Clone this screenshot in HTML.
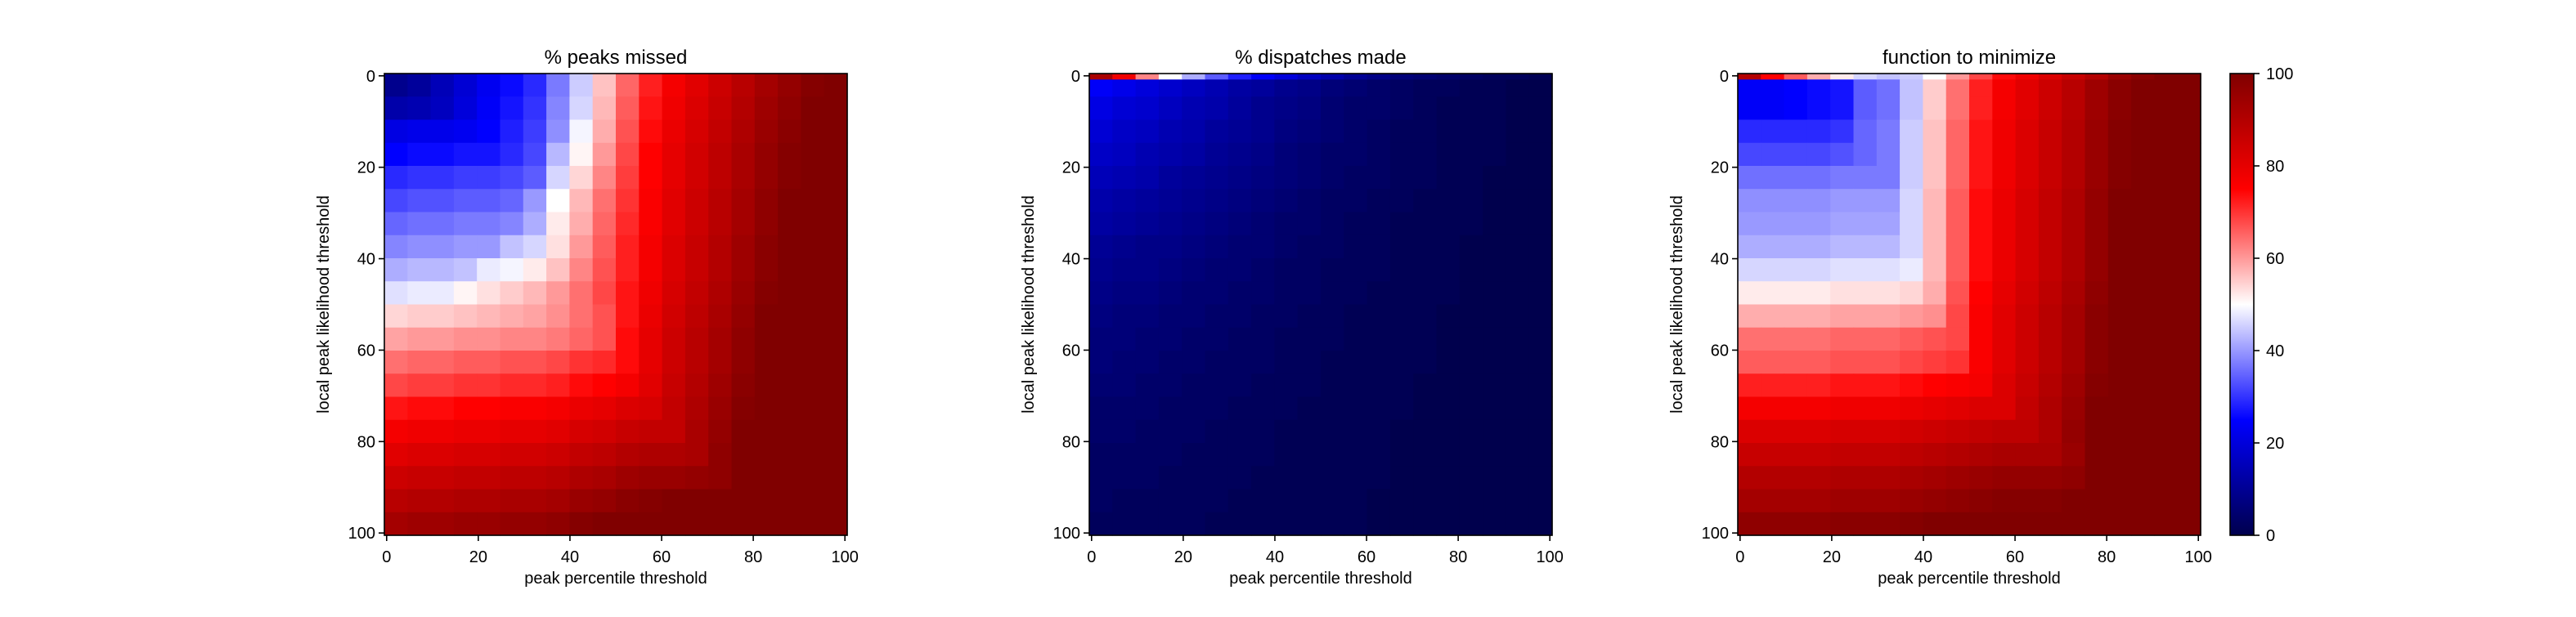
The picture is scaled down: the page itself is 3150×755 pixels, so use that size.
<!DOCTYPE html>
<html><head><meta charset="utf-8"><style>
html,body{margin:0;padding:0;background:#fff;}
svg text{font-family:"Liberation Sans","DejaVu Sans",sans-serif;fill:#000;}
</style></head><body>
<svg id="fig" width="3150" height="750" viewBox="0 0 3150 750" xmlns="http://www.w3.org/2000/svg">
<defs>
<linearGradient id="seis" x1="0" y1="1" x2="0" y2="0">
<stop offset="0" stop-color="rgb(0,0,77)"/>
<stop offset="0.25" stop-color="rgb(0,0,255)"/>
<stop offset="0.5" stop-color="rgb(255,255,255)"/>
<stop offset="0.75" stop-color="rgb(255,0,0)"/>
<stop offset="1" stop-color="rgb(128,0,0)"/>
</linearGradient>
</defs>
</svg>
<script>
const ticks=[0,20,40,60,80,100];
const missed=[
[9,11,15,19,23,26,29,37,45,56,65,72,77,81,85,89,93,96,99,100],
[13,14,16,20,24,27,30,38,46,57,66,73,78,82,86,90,94,97,100,100],
[21,22,22,23,25,28,31,39,49,58,67,74,79,83,87,91,95,98,100,100],
[25,26,26,27,27,29,32,43,51,60,68,75,80,84,88,92,96,99,100,100],
[29,30,30,31,31,32,34,46,54,62,69,75,80,84,88,92,96,99,100,100],
[32,33,33,34,34,35,40,50,57,64,70,76,81,85,89,93,97,100,100,100],
[35,36,36,37,37,38,42,52,58,65,71,76,81,85,89,93,97,100,100,100],
[38,39,39,40,40,44,46,53,60,66,72,77,82,86,90,94,98,100,100,100],
[42,43,43,44,48,49,52,56,62,67,72,77,82,86,90,94,98,100,100,100],
[47,48,48,51,53,55,57,60,64,68,73,78,83,87,91,95,99,100,100,100],
[54,55,55,56,57,58,59,61,64,67,73,79,84,88,92,96,100,100,100,100],
[59,60,60,61,61,62,62,63,65,67,74,80,85,89,93,97,100,100,100,100],
[64,65,65,66,66,67,67,68,70,71,74,80,85,89,93,97,100,100,100,100],
[68,69,69,70,70,71,71,72,74,75,77,81,86,90,94,98,100,100,100,100],
[73,74,74,75,75,76,76,77,79,80,82,83,87,91,95,99,100,100,100,100],
[77,78,78,79,79,80,80,81,83,84,86,87,87,92,96,100,100,100,100,100],
[81,82,82,83,83,84,84,85,87,88,90,91,91,92,97,100,100,100,100,100],
[85,86,86,87,87,88,88,89,91,92,94,95,95,96,97,100,100,100,100,100],
[89,90,90,91,91,92,92,93,95,96,98,99,100,100,100,100,100,100,100,100],
[93,94,94,95,95,96,96,97,99,100,100,100,100,100,100,100,100,100,100,100]];
const dispatches=[
[24,22,20,18,16,14,12,11,9,8,6,5,4,3,2,2,1,1,0,0],
[21,19,18,16,14,13,11,9,8,7,5,4,4,3,2,1,1,1,0,0],
[19,17,16,14,13,11,10,9,7,6,5,4,3,2,2,1,1,1,0,0],
[17,16,14,13,12,10,9,8,6,5,4,4,3,2,2,1,1,1,0,0],
[15,14,13,11,10,9,8,7,6,5,4,3,3,2,2,1,1,0,0,0],
[13,12,11,10,9,8,7,6,5,4,3,3,2,2,1,1,1,0,0,0],
[12,11,10,9,8,7,6,5,4,4,3,2,2,1,1,1,1,0,0,0],
[10,9,8,8,7,6,5,5,4,3,3,2,2,1,1,1,0,0,0,0],
[9,8,8,7,6,5,5,4,3,3,2,2,2,1,1,1,0,0,0,0],
[8,7,7,6,5,5,4,4,3,3,2,2,1,1,1,1,0,0,0,0],
[7,6,6,5,5,4,4,3,3,2,2,1,1,1,1,0,0,0,0,0],
[6,6,5,5,4,4,3,3,2,2,2,1,1,1,1,0,0,0,0,0],
[6,5,5,4,4,3,3,3,2,2,1,1,1,1,1,0,0,0,0,0],
[5,5,4,4,3,3,3,2,2,2,1,1,1,1,0,0,0,0,0,0],
[4,4,4,3,3,3,2,2,2,1,1,1,1,1,0,0,0,0,0,0],
[4,4,3,3,3,2,2,2,1,1,1,1,1,0,0,0,0,0,0,0],
[3,3,3,3,2,2,2,2,1,1,1,1,1,0,0,0,0,0,0,0],
[3,3,3,2,2,2,2,1,1,1,1,1,1,0,0,0,0,0,0,0],
[3,2,2,2,2,2,1,1,1,1,1,1,0,0,0,0,0,0,0,0],
[2,2,2,2,2,1,1,1,1,1,1,1,0,0,0,0,0,0,0,0]];
const dispatchesTopRow=[92,78,62,50,42,34,28,24,20,16,13,10,8,6,5,4,3,2,2,1];
const objective=[
[24,24,25,26,27,34,36,44,55,64,72,77,81,85,89,94,98,100,100,100],
[24,24,25,26,27,34,36,44,55,64,72,77,81,85,89,94,98,100,100,100],
[29,29,29,29,30,35,37,45,56,65,73,78,82,86,90,95,99,100,100,100],
[32,32,32,32,33,35,37,45,56,65,73,78,82,86,90,95,99,100,100,100],
[36,36,36,36,37,37,37,45,56,65,73,78,82,86,90,95,99,100,100,100],
[39,39,39,39,40,40,40,46,57,66,74,79,83,87,91,96,100,100,100,100],
[40,40,40,40,41,41,41,46,57,66,74,79,83,87,91,96,100,100,100,100],
[42,42,42,42,43,43,43,46,57,66,74,79,83,87,91,96,100,100,100,100],
[46,46,46,46,47,47,47,48,57,66,74,79,83,87,91,96,100,100,100,100],
[52,52,52,52,53,53,53,54,58,67,75,80,84,88,92,97,100,100,100,100],
[58,58,58,58,59,59,59,60,61,68,76,81,85,89,93,98,100,100,100,100],
[64,64,64,64,65,65,65,66,67,68,76,81,85,89,93,98,100,100,100,100],
[66,66,66,66,67,67,67,68,69,70,76,81,85,89,93,98,100,100,100,100],
[72,72,72,72,73,73,73,74,75,76,77,82,86,90,94,99,100,100,100,100],
[77,77,77,77,78,78,78,79,80,81,82,82,87,91,95,100,100,100,100,100],
[82,82,82,82,83,83,83,84,85,86,87,88,88,91,96,100,100,100,100,100],
[86,86,86,86,87,87,87,88,89,90,91,92,92,92,95,100,100,100,100,100],
[90,90,90,90,91,91,91,92,93,94,95,96,96,96,97,100,100,100,100,100],
[93,93,93,93,94,94,94,95,96,97,98,99,99,99,100,100,100,100,100,100],
[97,97,97,97,98,98,98,99,100,100,100,100,100,100,100,100,100,100,100,100]];
const objectiveTopRow=[90,75,66,58,52,46,44,45,50,60,68,74,78,82,86,90,95,98,100,100];

const NS='http://www.w3.org/2000/svg';
const svg=document.getElementById('fig');
function mk(tag,attrs,parent){const e=document.createElementNS(NS,tag);for(const k in attrs)e.setAttribute(k,attrs[k]);(parent||svg).appendChild(e);return e;}
function seismic(v){
  const t=Math.max(0,Math.min(1,v/100));
  const st=[[0,0,0,77],[0.25,0,0,255],[0.5,255,255,255],[0.75,255,0,0],[1,128,0,0]];
  for(let i=0;i<4;i++){const a=st[i],b=st[i+1];if(t<=b[0]){const f=(t-a[0])/(b[0]-a[0]);
    return 'rgb('+Math.round(a[1]+f*(b[1]-a[1]))+','+Math.round(a[2]+f*(b[2]-a[2]))+','+Math.round(a[3]+f*(b[3]-a[3]))+')';}}
  return 'rgb(128,0,0)';
}
const AX_TOP=90,AX_H=565,AX_W=566;
function panel(x0,grid,topRow,title,name){
  const g=mk('g',{});
  
  
  const sx=v=>x0+(v+0.5)/101*AX_W;
  const sy=v=>AX_TOP+(v+0.5)/101*AX_H;
  const n=grid.length,m=grid[0].length;
  for(let r=0;r<n;r++)for(let c=0;c<m;c++){
    const xa=sx(-0.5+c*101/m),xb=sx(-0.5+(c+1)*101/m);
    const ya=sy(-0.5+r*101/n),yb=sy(-0.5+(r+1)*101/n);
    const cell=mk('rect',{x:xa,y:ya,width:xb-xa+0.6,height:yb-ya+0.6,fill:seismic(grid[r][c])},g);
    
    
  }
  if(topRow){
    for(let c=0;c<topRow.length;c++){
      const xa=sx(-0.5+c*101/topRow.length),xb=sx(-0.5+(c+1)*101/topRow.length);
      const cell=mk('rect',{x:xa,y:sy(-0.5),width:xb-xa+0.6,height:sy(0.8)-sy(-0.5),fill:seismic(topRow[c])},g);
      
      
    }
  }
  const frame=mk('rect',{x:x0,y:AX_TOP,width:AX_W,height:AX_H,fill:'none',stroke:'#000','stroke-width':1.6},g);
  
  
  ticks.forEach(t=>{
    mk('line',{x1:sx(t),x2:sx(t),y1:AX_TOP+AX_H,y2:AX_TOP+AX_H+7,stroke:'#000','stroke-width':1.6},g);
    const xl=mk('text',{x:sx(t),y:AX_TOP+AX_H+33,'font-size':20,'text-anchor':'middle'},g);
    xl.textContent=t;
    
    
    mk('line',{x1:x0-7,x2:x0,y1:sy(t),y2:sy(t),stroke:'#000','stroke-width':1.6},g);
    const yl=mk('text',{x:x0-11,y:sy(t)+7,'font-size':20,'text-anchor':'end'},g);
    yl.textContent=t;
    
    
  });
  const tt=mk('text',{x:x0+AX_W/2,y:78,'font-size':24,'text-anchor':'middle'},g);
  tt.textContent=title;
  
  
  const xt=mk('text',{x:x0+AX_W/2,y:714,'font-size':20,'text-anchor':'middle'},g);
  xt.textContent='peak percentile threshold';
  
  
  const yt=mk('text',{x:0,y:0,'font-size':20,'text-anchor':'middle',transform:'translate('+(x0-68)+','+(AX_TOP+AX_H/2)+') rotate(-90)'},g);
  yt.textContent='local peak likelihood threshold';
  
  
}
panel(470,missed,null,'% peaks missed','peaks-missed-heatmap');
panel(1332,dispatches,dispatchesTopRow,'% dispatches made','dispatches-made-heatmap');
panel(2125,objective,objectiveTopRow,'function to minimize','function-to-minimize-heatmap');

const cb=mk('g',{});


const CB_X=2727,CB_W=29;
mk('rect',{x:CB_X,y:AX_TOP,width:CB_W,height:AX_H,fill:'url(#seis)',stroke:'#000','stroke-width':1.6},cb);
ticks.forEach(t=>{
  const y=AX_TOP+AX_H-t/100*AX_H;
  mk('line',{x1:CB_X+CB_W,x2:CB_X+CB_W+7,y1:y,y2:y,stroke:'#000','stroke-width':1.6},cb);
  const l=mk('text',{x:CB_X+CB_W+15,y:y+7,'font-size':20},cb);
  l.textContent=t;
  
  
});
</script>
</body></html>
